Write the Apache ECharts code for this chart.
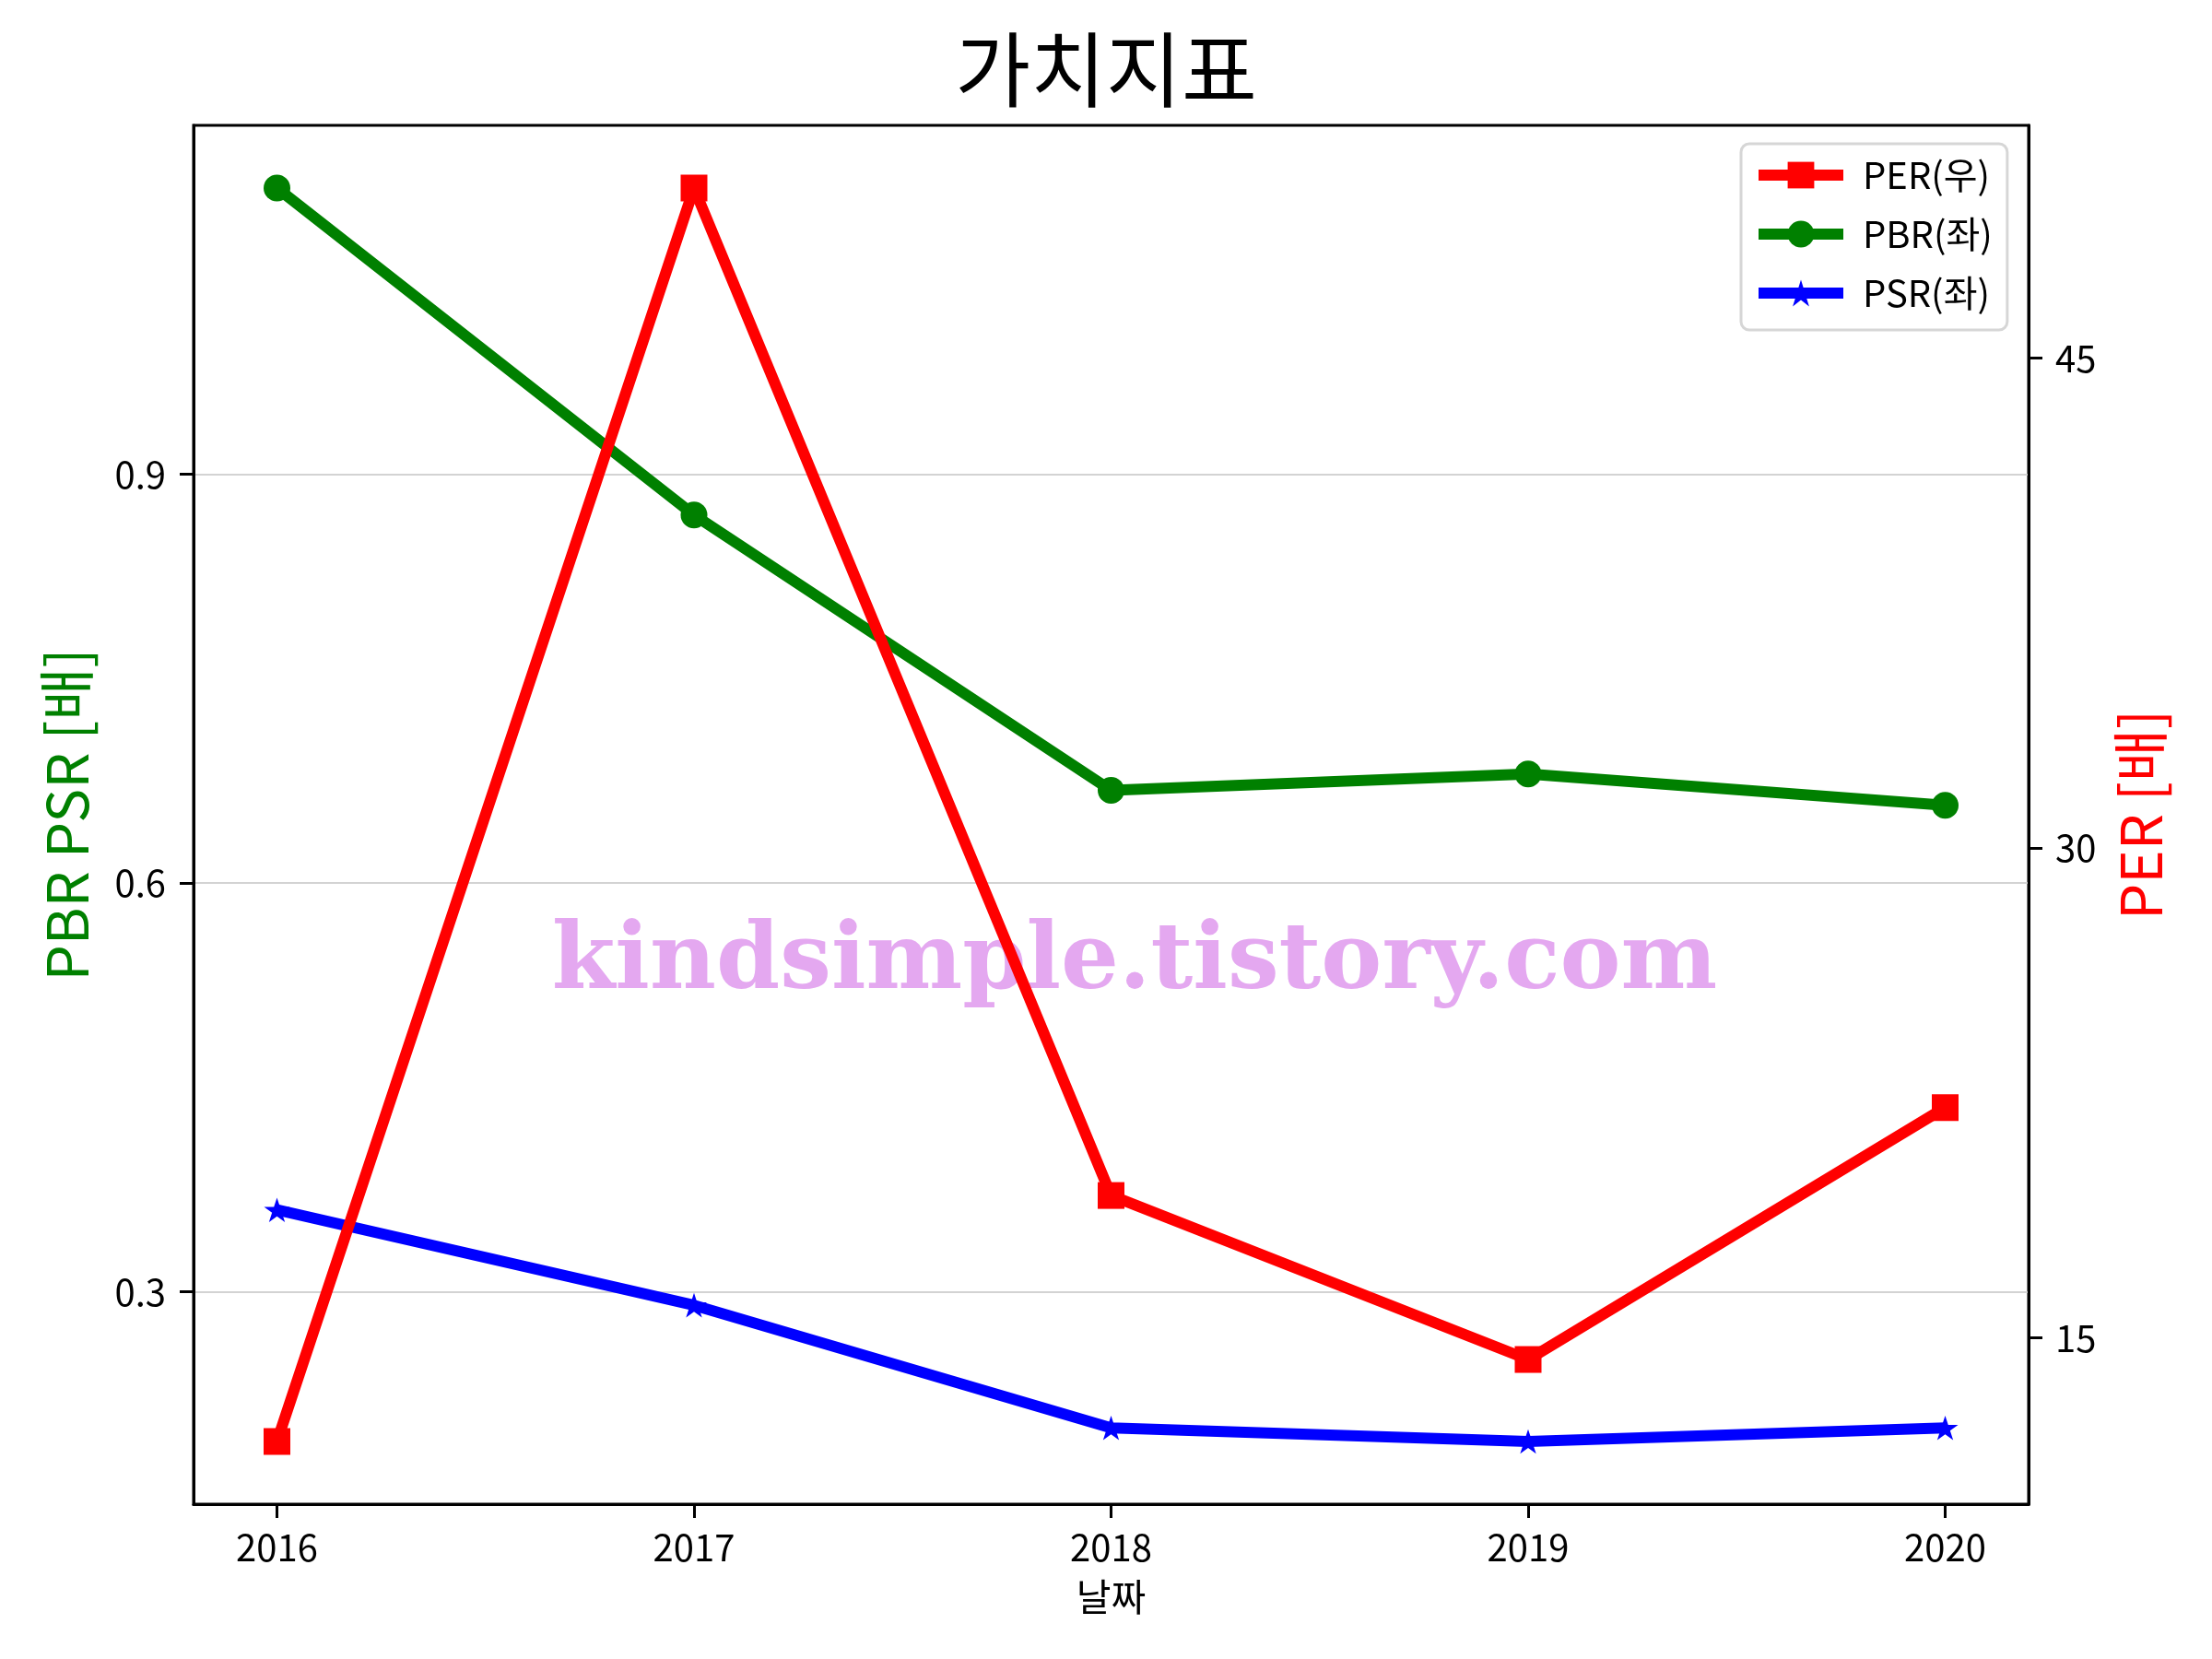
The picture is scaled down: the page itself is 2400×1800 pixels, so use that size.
<!DOCTYPE html>
<html><head><meta charset="utf-8">
<script src="https://cdn.jsdelivr.net/npm/echarts@6/dist/echarts.min.js"></script>
<style>html,body{margin:0;padding:0;background:#fff}#c{width:2400px;height:1800px}</style>
</head><body><div id="c"></div>
<script>
const years = [2016, 2017, 2018, 2019, 2020];
const perValues = [11.83, 50.2, 19.36, 14.34, 22.05];
const pbrValues = [1.11, 0.87, 0.668, 0.68, 0.657];
const psrValues = [0.36, 0.29, 0.20, 0.19, 0.20];
const leftTicks = [0.3, 0.6, 0.9];
const rightTicks = [15, 30, 45];
const seriesNames = ['PER(우)', 'PBR(좌)', 'PSR(좌)'];
const titleText = '가치지표';
const xName = '날짜';
const leftName = 'PBR PSR [배]';
const rightName = 'PER [배]';
const watermark = 'kindsimple.tistory.com';

const FONT = "'Noto Sans CJK KR', 'Noto Sans', sans-serif";
function lim(arrs) {
  const all = [].concat(...arrs);
  const mn = Math.min(...all), mx = Math.max(...all), m = (mx - mn) * 0.05;
  return [mn - m, mx + m];
}
const xl = lim([years]);
const ll = lim([pbrValues, psrValues]);
const rl = lim([perValues]);
const pairs = v => years.map((y, i) => [y, v[i]]);
const starPath = 'path://M0,-1L0.2245,-0.309L0.951,-0.309L0.363,0.118L0.588,0.809L0,0.382L-0.588,0.809L-0.363,0.118L-0.951,-0.309L-0.2245,-0.309Z';

const chart = echarts.init(document.getElementById('c'), null, {renderer: 'canvas'});
const axisLine = {show: true, onZero: false, lineStyle: {color: '#000', width: 3}};
const axisTick = {show: true, length: 15, lineStyle: {color: '#000', width: 3}};
const labelStyle = {color: '#000', fontSize: 40, fontFamily: FONT};

chart.setOption({
  animation: false,
  backgroundColor: '#fff',
  title: {
    text: titleText, left: 'center', top: 26,
    textStyle: {fontSize: 89, fontWeight: 'normal', color: '#000', fontFamily: FONT}
  },
  grid: {left: 210, right: 199, top: 136, bottom: 168, show: true, borderColor: '#000', borderWidth: 3,
         containLabel: false, outerBoundsMode: 'none'},
  legend: {
    data: seriesNames,
    orient: 'vertical', left: 1889, top: 156,
    padding: [14, 16, 20, 13],
    itemGap: 24, itemWidth: 92, itemHeight: 36,
    backgroundColor: '#fff', borderColor: '#d6d6d6', borderWidth: 3, borderRadius: 9,
    lineStyle: {width: 12},
    textStyle: {fontSize: 40, color: '#000', fontFamily: FONT, padding: [0, 0, 0, 16]}
  },
  xAxis: {
    type: 'value', min: xl[0], max: xl[1],
    name: xName, nameLocation: 'middle', nameGap: 80,
    nameTextStyle: {fontSize: 41, color: '#000', fontFamily: FONT},
    axisLine: axisLine,
    axisTick: Object.assign({customValues: years}, axisTick),
    axisLabel: Object.assign({customValues: years, margin: 27, formatter: v => String(v)}, labelStyle),
    splitLine: {show: false}
  },
  yAxis: [{
    type: 'value', position: 'left', min: ll[0], max: ll[1],
    name: leftName, nameLocation: 'middle', nameRotate: 90, nameGap: 107,
    nameTextStyle: {fontSize: 62, color: '#008000', fontFamily: FONT},
    axisLine: axisLine,
    axisTick: Object.assign({customValues: leftTicks}, axisTick),
    axisLabel: Object.assign({customValues: leftTicks, margin: 30, formatter: v => v.toFixed(1)}, labelStyle),
    splitLine: {show: true, lineStyle: {color: '#d3d3d3', width: 2}}
  }, {
    type: 'value', position: 'right', min: rl[0], max: rl[1],
    name: rightName, nameLocation: 'middle', nameRotate: 90, nameGap: 90,
    nameTextStyle: {fontSize: 62, color: '#ff0000', fontFamily: FONT},
    axisLine: axisLine,
    axisTick: Object.assign({customValues: rightTicks}, axisTick),
    axisLabel: Object.assign({customValues: rightTicks, margin: 29, formatter: v => String(v)}, labelStyle),
    splitLine: {show: false}
  }],
  graphic: [{
    type: 'text', x: 1231, y: 1046, z: 1,
    style: {text: watermark, fill: '#e4a8f0', font: "bold 99px 'DejaVu Serif'", align: 'center', verticalAlign: 'middle'}
  }],
  series: [{
    name: seriesNames[1], type: 'line', yAxisIndex: 0, data: pairs(pbrValues), z: 3,
    symbol: 'circle', symbolSize: 29,
    lineStyle: {color: '#008000', width: 12}, itemStyle: {color: '#008000'}
  }, {
    name: seriesNames[2], type: 'line', yAxisIndex: 0, data: pairs(psrValues), z: 3,
    symbol: starPath, symbolSize: 28, symbolKeepAspect: true,
    lineStyle: {color: '#0000ff', width: 12}, itemStyle: {color: '#0000ff'}
  }, {
    name: seriesNames[0], type: 'line', yAxisIndex: 1, data: pairs(perValues), z: 4,
    symbol: 'rect', symbolSize: 29,
    lineStyle: {color: '#ff0000', width: 12}, itemStyle: {color: '#ff0000'}
  }]
});
</script></body></html>
